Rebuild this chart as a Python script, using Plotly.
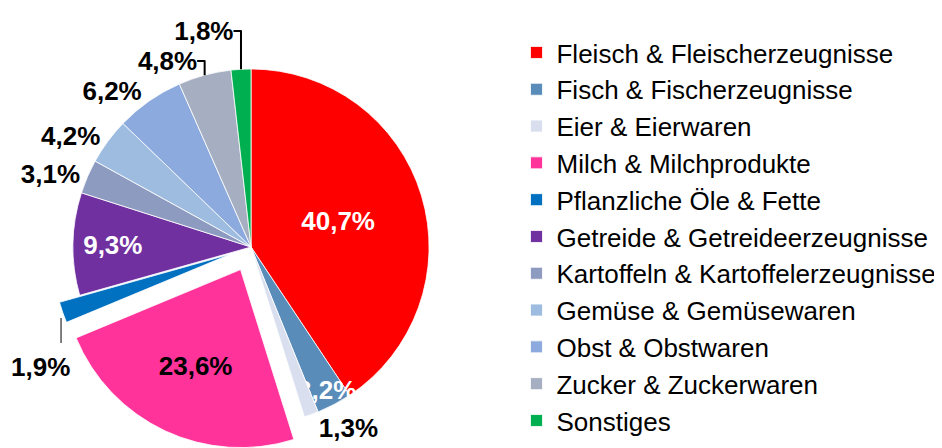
import plotly.graph_objects as go

categories = [
    "Fleisch & Fleischerzeugnisse",
    "Fisch & Fischerzeugnisse",
    "Eier & Eierwaren",
    "Milch & Milchprodukte",
    "Pflanzliche Öle & Fette",
    "Getreide & Getreideerzeugnisse",
    "Kartoffeln & Kartoffelerzeugnisse",
    "Gemüse & Gemüsewaren",
    "Obst & Obstwaren",
    "Zucker & Zuckerwaren",
    "Sonstiges",
]
shares = [40.7, 3.2, 1.3, 23.6, 1.9, 9.3, 3.1, 4.2, 6.2, 4.8, 1.8]
colors = ["#FF0000", "#5A8CBA", "#D9DFEF", "#FF3399", "#0070C0", "#7030A0",
          "#8E9BC0", "#9DBCDF", "#8CAADD", "#A6AFC2", "#00B050"]
pulls = [0, 0, 0, 0.14, 0.12, 0, 0, 0, 0, 0, 0]
# the 1,9% label is placed below its slice as a separate annotation
text_pos = ["inside", "inside", "outside", "inside", "none", "inside",
            "outside", "outside", "outside", "outside", "outside"]
text_colors = ["white", "white", "black", "black", "black", "white",
               "black", "black", "black", "black", "black"]

labels_txt = [f"{v:.1f}".replace(".", ",") + "%" for v in shares]

fig = go.Figure()
fig.add_trace(go.Pie(
    labels=categories,
    values=shares,
    text=labels_txt,
    textinfo="text",
    textposition=text_pos,
    insidetextorientation="horizontal",
    textfont=dict(family="Liberation Sans", size=26, color=text_colors, weight="bold"),
    marker=dict(colors=colors, line=dict(color="white", width=0.8)),
    pull=pulls,
    sort=False,
    direction="clockwise",
    rotation=0,
    hoverinfo="none",
    domain=dict(x=[0.0, 0.516], y=[0.0135, 0.9195]),
))

# label for "Pflanzliche Öle & Fette" with a short leader line
fig.add_annotation(
    x=0.035, y=0.1987, xref="paper", yref="paper",
    xanchor="center", yanchor="middle",
    text=labels_txt[4], showarrow=False,
    font=dict(family="Liberation Sans", size=26, color="black", weight="bold"),
)
fig.add_shape(
    type="line", xref="paper", yref="paper",
    x0=0.0563, x1=0.0563, y0=1 - 310 / 448, y1=1 - 335 / 448,
    line=dict(color="black", width=1),
)

fig.update_layout(
    width=942,
    height=448,
    margin=dict(l=0, r=0, t=0, b=0, autoexpand=False),
    paper_bgcolor="white",
    plot_bgcolor="white",
    uniformtext=dict(minsize=26, mode="show"),
    showlegend=True,
    legend=dict(
        x=0.5398, y=0.953, xanchor="left", yanchor="top",
        font=dict(family="Liberation Sans", size=26, color="black"),
        bgcolor="rgba(0,0,0,0)",
        itemclick=False, itemdoubleclick=False,
    ),
)

fig.write_html("out.html")
